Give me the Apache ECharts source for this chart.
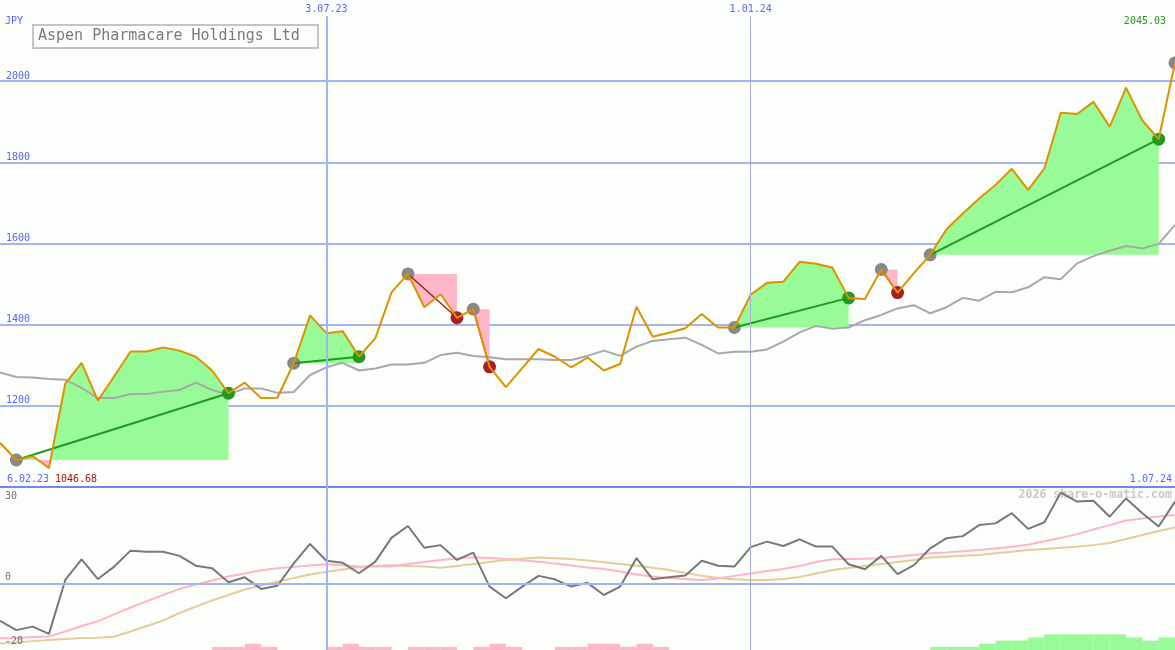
<!DOCTYPE html>
<html>
<head>
<meta charset="utf-8">
<title>Aspen Pharmacare Holdings Ltd</title>
<script src="https://cdn.jsdelivr.net/npm/echarts@6.0.0/dist/echarts.min.js"></script>
<style>
html,body{margin:0;padding:0;background:#fcfefc;overflow:hidden}
#chart{width:1175px;height:650px}
</style>
</head>
<body>
<div id="chart"></div>
<script>
// ---------------- data ----------------
const titleText = 'Aspen Pharmacare Holdings Ltd';
const currency = 'JPY';
const watermark = '2026 share-o-matic.com';
const startLabel = '6.02.23';
const endLabel = '1.07.24';
const minLabel = '1046.68';
const maxLabel = '2045.03';

const weeks = ['2023-02-13','2023-02-20','2023-02-27','2023-03-06','2023-03-13','2023-03-20','2023-03-27','2023-04-03','2023-04-10','2023-04-17','2023-04-24','2023-05-01','2023-05-08','2023-05-15','2023-05-22','2023-05-29','2023-06-05','2023-06-12','2023-06-19','2023-06-26','2023-07-03','2023-07-10','2023-07-17','2023-07-24','2023-07-31','2023-08-07','2023-08-14','2023-08-21','2023-08-28','2023-09-04','2023-09-11','2023-09-18','2023-09-25','2023-10-02','2023-10-09','2023-10-16','2023-10-23','2023-10-30','2023-11-06','2023-11-13','2023-11-20','2023-11-27','2023-12-04','2023-12-11','2023-12-18','2023-12-25','2024-01-01','2024-01-08','2024-01-15','2024-01-22','2024-01-29','2024-02-05','2024-02-12','2024-02-19','2024-02-26','2024-03-04','2024-03-11','2024-03-18','2024-03-25','2024-04-01','2024-04-08','2024-04-15','2024-04-22','2024-04-29','2024-05-06','2024-05-13','2024-05-20','2024-05-27','2024-06-03','2024-06-10','2024-06-17','2024-06-24','2024-07-01'];

const price = [1109,1066.5,1076,1046.68,1255,1306,1213,1273,1334,1334,1344,1336,1321,1287,1231,1257,1219,1220,1305,1423,1379,1384,1321,1367,1480,1525,1443,1475,1417,1438,1296,1246,1293,1340,1321,1295,1319,1287,1303,1444,1370,1380,1391,1426,1393,1393,1474,1503,1506,1555,1550,1541,1466,1463,1536,1479,1527,1572,1635,1674,1711,1744,1784,1732,1785,1922,1919,1949,1888,1984,1903,1857,2045.03];

const average = [1282,1271,1270,1266,1264,1244,1219,1219,1229,1229,1235,1239,1257,1239,1228,1243,1243,1232,1234,1276,1295,1306,1287,1292,1302,1302,1306,1325,1331,1323,1320,1315,1315,1315,1313,1313,1323,1336,1323,1346,1360,1364,1368,1350,1329,1333,1333,1339,1358,1381,1397,1390,1393,1411,1424,1440,1448,1428,1443,1466,1459,1481,1480,1492,1517,1512,1551,1569,1582,1594,1588,1599,1646];

const oscMain = [-12.8,-16.0,-14.8,-17.3,1.3,8.4,1.6,5.9,11.4,11.0,11.0,9.6,6.2,5.3,0.5,2.2,-1.8,-0.7,7.0,13.7,7.9,7.2,3.6,7.6,15.9,19.9,12.4,13.3,8.2,10.7,-1.0,-5.0,-1.0,2.7,1.5,-1.0,0.3,-3.9,-1.0,8.8,1.5,2.2,2.8,7.9,6.2,5.9,12.6,14.5,13.0,15.3,12.8,12.8,6.7,5.0,9.6,3.3,6.4,12.2,15.7,16.4,20.2,20.8,24.3,18.9,21.2,31.4,28.3,28.6,23.1,29.4,24.3,19.7,28.3];

const oscFast = [-18.8,-18.7,-18.4,-18.2,-16.5,-14.6,-13.0,-10.6,-8.2,-6.0,-3.9,-1.8,-0.3,1.1,2.5,3.5,4.6,5.3,5.8,6.3,6.7,6.4,5.9,5.9,5.9,6.8,7.5,8.2,8.7,9.1,8.9,8.5,8.1,7.6,7.0,6.3,5.6,5.1,4.2,3.2,2.5,2.0,1.6,1.3,1.8,2.7,3.5,4.4,5.1,6.1,7.5,8.4,8.5,8.6,8.8,9.4,9.9,10.5,10.8,11.2,11.6,12.1,12.7,13.4,14.6,15.8,17.1,18.7,20.2,21.8,22.5,23.2,23.7];

const oscSlow = [-20.6,-20.3,-19.8,-19.4,-19.1,-18.7,-18.6,-18.3,-16.5,-14.6,-12.7,-10.1,-7.9,-5.8,-3.9,-2.0,-0.6,0.7,2.0,3.2,4.1,4.9,5.7,6.1,6.4,6.1,5.9,5.5,6.1,6.8,7.5,8.2,8.6,9.0,8.8,8.5,8.0,7.4,6.8,6.2,5.5,4.7,3.7,2.7,2.0,1.5,1.3,1.3,1.6,2.3,3.5,4.7,5.4,6.1,6.8,7.5,8.2,9.0,9.3,9.6,9.9,10.5,11.0,11.6,12.0,12.4,12.7,13.3,14.0,15.4,16.8,18.2,19.4];

const histDown = [0,0,0,0,0,0,0,0,0,0,0,0,0,1,1,2,1,0,0,0,1,2,1,1,0,1,1,1,0,1,2,1,0,0,1,1,2,2,1,2,1,0,0,0,0,0,0,0,0,0,0,0,0,0,0,0,0,0,0,0,0,0,0,0,0,0,0,0,0,0,0,0,0];
const histUp = [0,0,0,0,0,0,0,0,0,0,0,0,0,0,0,0,0,0,0,0,0,0,0,0,0,0,0,0,0,0,0,0,0,0,0,0,0,0,0,0,0,0,0,0,0,0,0,0,0,0,0,0,0,0,0,0,0,1,1,1,2,3,3,4,5,5,5,5,5,4,3,4,0];

// trades: index into weeks of the opening and closing week
const tradeOpen = [1,18,25,29,45,54,57];
const tradeClose = [14,22,28,30,52,55,71];
const openPosition = 72;

const priceTicks = [1200,1400,1600,1800,2000];
const oscTicks = [30,0,-20];
const markerDates = ['2023-07-03','2024-01-01'];
const markerLabels = ['3.07.23','1.01.24'];

// ---------------- styles ----------------
const MONO = 'DejaVu Sans Mono';
const BLUE = '#5566ff';
const GRID = '#a3b3f3';
const SEP = '#7585ee';
const ORANGE = '#dd9200';
const MA = '#a8a8a8';
const GREEN_FILL = '#98fb98';
const PINK_FILL = '#ffb6c8';
const GREEN = '#229922';
const RED = '#a52020';
const GRAYDOT = '#888888';
const DOT_R = 6.5;

const T = s => +echarts.time.parse(s);
const tMin = T(weeks[0]);
const tMax = T(weeks[weeks.length - 1]);
const pts = arr => weeks.map((d, i) => [T(d), arr[i]]);

const chart = echarts.init(document.getElementById('chart'), null, {renderer: 'canvas'});

function zoneFill(params, api) {
  const a = api.value(2), b = api.value(3);
  const base = price[a];
  const up = [[T(weeks[a]), base]], dn = [[T(weeks[a]), base]];
  for (let i = a; i <= b; i++) {
    const t = T(weeks[i]), p = price[i];
    if (i > a) {
      const pp = price[i - 1], tp = T(weeks[i - 1]);
      if ((pp - base) * (p - base) < 0) {
        const tc = tp + (t - tp) * (pp - base) / (pp - p);
        up.push([tc, base]); dn.push([tc, base]);
      }
    }
    up.push([t, Math.max(p, base)]);
    dn.push([t, Math.min(p, base)]);
  }
  up.push([T(weeks[b]), base]); dn.push([T(weeks[b]), base]);
  return {
    type: 'group',
    children: [
      {type: 'polygon', shape: {points: up.map(v => api.coord(v))}, style: {fill: GREEN_FILL}},
      {type: 'polygon', shape: {points: dn.map(v => api.coord(v))}, style: {fill: PINK_FILL}}
    ]
  };
}

function tradeMarks(params, api) {
  const a = api.value(2), b = api.value(3);
  const p0 = api.coord([T(weeks[a]), price[a]]);
  const children = [];
  if (b > a) {
    const p1 = api.coord([T(weeks[b]), price[b]]);
    const win = price[b] >= price[a];
    children.push({type: 'circle', shape: {cx: p0[0], cy: p0[1], r: DOT_R}, style: {fill: GRAYDOT}});
    children.push({type: 'circle', shape: {cx: p1[0], cy: p1[1], r: DOT_R}, style: {fill: win ? GREEN : RED}});
    children.push({type: 'line', shape: {x1: p0[0], y1: p0[1], x2: p1[0], y2: p1[1]},
      style: {stroke: win ? GREEN : RED, lineWidth: win ? 2 : 1.5}});
  } else {
    children.push({type: 'circle', shape: {cx: p0[0], cy: p0[1], r: DOT_R}, style: {fill: GRAYDOT}});
  }
  return {type: 'group', children};
}

function histRect(color) {
  return function (params, api) {
    const i = api.value(2);
    const p0 = api.coord([T(weeks[i]), api.value(1)]);
    const p1 = api.coord([T(weeks[i + 1]), 0]);
    return {type: 'rect', shape: {x: p0[0], y: p0[1], width: p1[0] - p0[0], height: p1[1] - p0[1]},
      style: {fill: color}};
  };
}

const tradeData = tradeOpen.map((o, j) => [T(weeks[o]), price[o], o, tradeClose[j]]);
const markData = tradeData.concat([[T(weeks[openPosition]), price[openPosition], openPosition, openPosition]]);
const histData = arr => arr.map((v, i) => [T(weeks[i]), v, i]).filter(d => d[1] > 0);

const vLinesTop = markerDates.map((d, i) => [
  {coord: [T(d), 2160], label: {show: true, position: 'start', formatter: markerLabels[i], color: BLUE,
    fontFamily: MONO, fontSize: 10, distance: 2}},
  {coord: [T(d), 1000]}
]);
const vLineStyles = [{color: GRID, width: 2, type: 'solid'}, {color: '#a6aed8', width: 1, type: 'solid'}];
vLinesTop.forEach((l, i) => { l[0].lineStyle = vLineStyles[i]; });

const option = {
  backgroundColor: '#fcfefc',
  animation: false,
  title: {
    text: titleText, left: 33, top: 25,
    borderColor: '#c4c4c4', borderWidth: 2, padding: [4, 18, 4, 5],
    textStyle: {color: '#7a7a7a', fontFamily: MONO, fontSize: 15, fontWeight: 'normal'}
  },
  grid: [
    {left: 0, right: 0, top: 0, height: 487},
    {left: 0, right: 0, top: 487, height: 163}
  ],
  xAxis: [
    {type: 'time', gridIndex: 0, min: tMin, max: tMax, show: false},
    {type: 'time', gridIndex: 1, min: tMin, max: tMax, show: false}
  ],
  yAxis: [
    {type: 'value', gridIndex: 0, min: 1000, max: 2200, interval: 200,
      axisLine: {show: false}, axisTick: {show: false},
      axisLabel: {inside: true, customValues: priceTicks, color: BLUE, fontFamily: MONO, fontSize: 10,
        verticalAlign: 'bottom', margin: 6, formatter: v => String(v)},
      splitLine: {show: true, showMaxLine: false,
        lineStyle: {width: 2, color: [SEP, GRID, GRID, GRID, GRID, GRID, 'rgba(0,0,0,0)']}}},
    {type: 'value', gridIndex: 1, min: -22.86, max: 33.34, z: 10,
      axisLine: {show: false}, axisTick: {show: false}, splitLine: {show: false},
      axisLabel: {inside: true, customValues: oscTicks, margin: 5,
        formatter: v => v === 0 ? '{z|0}' : '{n|' + String(v) + '}',
        rich: {
          z: {color: '#707070', fontFamily: MONO, fontSize: 10, padding: [0, 0, 12, 0]},
          n: {color: '#707070', fontFamily: MONO, fontSize: 10}
        }}},
    {type: 'value', gridIndex: 1, min: 0, max: 52, show: false}
  ],
  graphic: [
    {type: 'text', left: 5, top: 16, style: {text: currency, fill: BLUE, fontFamily: MONO, fontSize: 10}},
    {type: 'text', left: 7, top: 474, style: {text: startLabel, fill: BLUE, fontFamily: MONO, fontSize: 10}},
    {type: 'text', left: 55, top: 474, style: {text: minLabel, fill: '#aa1111', fontFamily: MONO, fontSize: 10}},
    {type: 'text', right: 3, top: 474, style: {text: endLabel, fill: BLUE, fontFamily: MONO, fontSize: 10}},
    {type: 'text', right: 9, top: 16, style: {text: maxLabel, fill: GREEN, fontFamily: MONO, fontSize: 10}},
    {type: 'text', right: 3, top: 489, style: {text: watermark, fill: '#c8c8c8', fontFamily: MONO, fontSize: 11.6, fontWeight: 'bold'}}
  ],
  series: [
    {type: 'custom', name: 'zones', xAxisIndex: 0, yAxisIndex: 0, encode: {x: 0, y: 1},
      data: tradeData, renderItem: zoneFill, z: 1, silent: true},
    {type: 'line', name: 'average', xAxisIndex: 0, yAxisIndex: 0, data: pts(average), showSymbol: false,
      lineStyle: {color: MA, width: 2}, z: 2, silent: true,
      markLine: {silent: true, symbol: 'none', data: vLinesTop}},
    {type: 'custom', name: 'trades', xAxisIndex: 0, yAxisIndex: 0, encode: {x: 0, y: 1},
      data: markData, renderItem: tradeMarks, z: 3, silent: true},
    {type: 'line', name: 'price', xAxisIndex: 0, yAxisIndex: 0, data: pts(price), showSymbol: false,
      lineStyle: {color: ORANGE, width: 2}, z: 4, silent: true},

    {type: 'custom', name: 'histDown', xAxisIndex: 1, yAxisIndex: 2, encode: {x: 0, y: 1},
      data: histData(histDown), renderItem: histRect(PINK_FILL), z: 1, silent: true},
    {type: 'custom', name: 'histUp', xAxisIndex: 1, yAxisIndex: 2, encode: {x: 0, y: 1},
      data: histData(histUp), renderItem: histRect(GREEN_FILL), z: 1, silent: true},
    {type: 'line', name: 'slow', xAxisIndex: 1, yAxisIndex: 1, data: pts(oscSlow), showSymbol: false,
      lineStyle: {color: '#e6cc9a', width: 2}, z: 2, silent: true,
      markLine: {silent: true, symbol: 'none', label: {show: false},
        data: [
          {yAxis: 0, lineStyle: {color: GRID, width: 2, type: 'solid'}},
          {xAxis: T(markerDates[0]), lineStyle: vLineStyles[0]},
          {xAxis: T(markerDates[1]), lineStyle: vLineStyles[1]}
        ]}},
    {type: 'line', name: 'fast', xAxisIndex: 1, yAxisIndex: 1, data: pts(oscFast), showSymbol: false,
      lineStyle: {color: '#ffb4c8', width: 2}, z: 2, silent: true},
    {type: 'line', name: 'osc', xAxisIndex: 1, yAxisIndex: 1, data: pts(oscMain), showSymbol: false,
      lineStyle: {color: '#787878', width: 2}, z: 3, silent: true}
  ]
};
chart.setOption(option);
</script>
</body>
</html>
